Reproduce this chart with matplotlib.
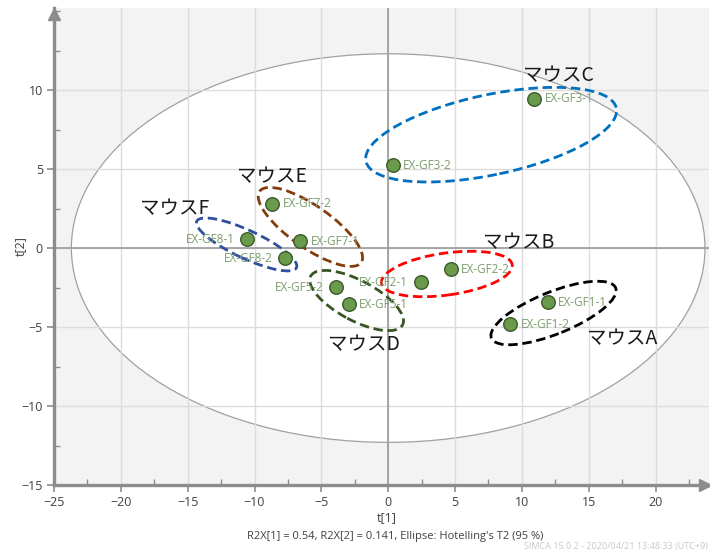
import matplotlib
matplotlib.use("Agg")
import matplotlib.pyplot as plt
from matplotlib.patches import Ellipse
from matplotlib.transforms import Affine2D, ScaledTranslation
from matplotlib.ticker import MultipleLocator

plt.rcParams['font.family'] = ['Open Sans', 'DejaVu Sans']

# Score values t[1], t[2] for each sample
sample_names = ["EX-GF1-1", "EX-GF1-2", "EX-GF2-1", "EX-GF2-2", "EX-GF3-1", "EX-GF3-2",
                "EX-GF5-1", "EX-GF5-2", "EX-GF7-1", "EX-GF7-2", "EX-GF8-1", "EX-GF8-2"]
t1 = [11.92, 9.15, 2.42, 4.69, 10.92, 0.33, -2.94, -3.91, -6.58, -8.68, -10.55, -7.70]
t2 = [-3.42, -4.82, -2.16, -1.33, 9.45, 5.24, -3.55, -2.47, 0.42, 2.82, 0.55, -0.63]
label_side = ["r", "r", "l", "r", "r", "r", "r", "l", "r", "r", "l", "l"]

# Hotelling's T2 (95 %) ellipse semi-axes
t2_axes = (23.7, 12.3)

# Mouse groups: name, label anchor (t[1], t[2]), ellipse centre (t[1], t[2]), colour
group_names = ["マウスA", "マウスB", "マウスC", "マウスD", "マウスE", "マウスF"]
group_label_xy = [(14.88, -5.75), (7.11, 0.32), (10.07, 10.95),
                  (-4.49, -6.11), (-11.34, 4.50), (-18.57, 2.50)]
group_centres = [(12.37, -4.11), (4.39, -1.64), (7.70, 7.18),
                 (-2.36, -3.32), (-5.82, 1.34), (-10.59, 0.23)]
group_colors = ["#000000", "#ff0000", "#0070c0", "#375623", "#843c0c", "#2f4f9f"]
# ellipse shape on screen: semi-major, semi-minor (pixels), tilt (degrees)
group_shapes = [(67, 21, 22), (66, 21, 8), (128, 40, 12),
                (52, 20, -28), (62, 21, -35), (55, 14, -25)]

W, H, DPI = 710, 551, 100
fig = plt.figure(figsize=(W / DPI, H / DPI), dpi=DPI)
ax = fig.add_axes([54 / W, 1 - 485 / H, (709 - 54) / W, (485 - 8) / H])
ax.set_facecolor("#f3f3f3")
ax.set_xlim(-25, 24.0)
ax.set_ylim(-15, 15.2)

ax.xaxis.set_major_locator(MultipleLocator(5))
ax.yaxis.set_major_locator(MultipleLocator(5))
ax.xaxis.set_minor_locator(MultipleLocator(2.5))
ax.yaxis.set_minor_locator(MultipleLocator(2.5))
ax.set_yticks([-15, -10, -5, 0, 5, 10])
ax.set_axisbelow(True)
ax.grid(True, which="major", color="#dcdcdc", lw=1.0, zorder=0.5)

for s in ["top", "right"]:
    ax.spines[s].set_visible(False)
for s in ["left", "bottom"]:
    ax.spines[s].set_color("#8c8c8c")
    ax.spines[s].set_linewidth(2.4)
ax.tick_params(which="major", direction="out", length=5, width=1.2, color="#8c8c8c",
               labelsize=9, labelcolor="#404040", pad=3)
ax.tick_params(which="minor", direction="in", length=4, width=1.0, color="#8c8c8c")

# axis arrows
ax.plot([0], [1], marker="^", ms=9, color="#8c8c8c", clip_on=False,
        transform=ax.transAxes + ScaledTranslation(0, -4 / 72, fig.dpi_scale_trans), zorder=5)
ax.plot([1], [0], marker=">", ms=9, color="#8c8c8c", clip_on=False,
        transform=ax.transAxes + ScaledTranslation(-3 / 72, 0, fig.dpi_scale_trans), zorder=5)

# Hotelling ellipse
ax.add_patch(Ellipse((0, 0), 2 * t2_axes[0], 2 * t2_axes[1], facecolor="white",
                     edgecolor="#a0a0a0", lw=0.9, zorder=0.3))
ax.axhline(0, color="#9a9a9a", lw=1.2, zorder=0.6)
ax.axvline(0, color="#9a9a9a", lw=1.2, zorder=0.6)

# group ellipses
for (cx, cy), (a, b, ang), col in zip(group_centres, group_shapes, group_colors):
    tr = Affine2D() + ScaledTranslation(cx, cy, ax.transData)
    ax.add_patch(Ellipse((0, 0), 2 * a, 2 * b, angle=ang, transform=tr, fill=False,
                         edgecolor=col, lw=2.0, linestyle=(0, (3.4, 1.7)), zorder=3))

# samples
ax.scatter(t1, t2, s=95, facecolor="#6a9b4c", edgecolor="#3a5a2a", linewidth=1.0, zorder=4)
for name, x, y, side in zip(sample_names, t1, t2, label_side):
    if side == "r":
        ax.annotate(name, (x, y), xytext=(7.5, 0), textcoords="offset points",
                    ha="left", va="center", fontsize=8.5, color="#7c9c6c", zorder=4)
    else:
        ax.annotate(name, (x, y), xytext=(-9, 0), textcoords="offset points",
                    ha="right", va="center", fontsize=8.5, color="#7c9c6c", zorder=4)

for name, (x, y) in zip(group_names, group_label_xy):
    ax.text(x, y, name, ha="left", va="center", fontsize=14, color="#1a1a1a",
            family=["Noto Sans CJK JP", "DejaVu Sans"], zorder=5)

fig.text(387 / W, 1 - 518 / H, "t[1]", ha="center", va="center", fontsize=9, color="#404040")
fig.text(20 / W, 1 - 246 / H, "t[2]", ha="center", va="center", fontsize=9, color="#404040",
         rotation=90)
fig.text(395 / W, 1 - 536.5 / H,
         "R2X[1] = 0.54, R2X[2] = 0.141, Ellipse: Hotelling's T2 (95 %)",
         ha="center", va="center", fontsize=8, color="#404040")
fig.text(708 / W, 1 - 546 / H, "SIMCA 15.0.2 - 2020/04/21 13:48:33 (UTC+9)",
         ha="right", va="center", fontsize=6.5, color="#c8c8c8")

fig.savefig("out.png", dpi=DPI)
